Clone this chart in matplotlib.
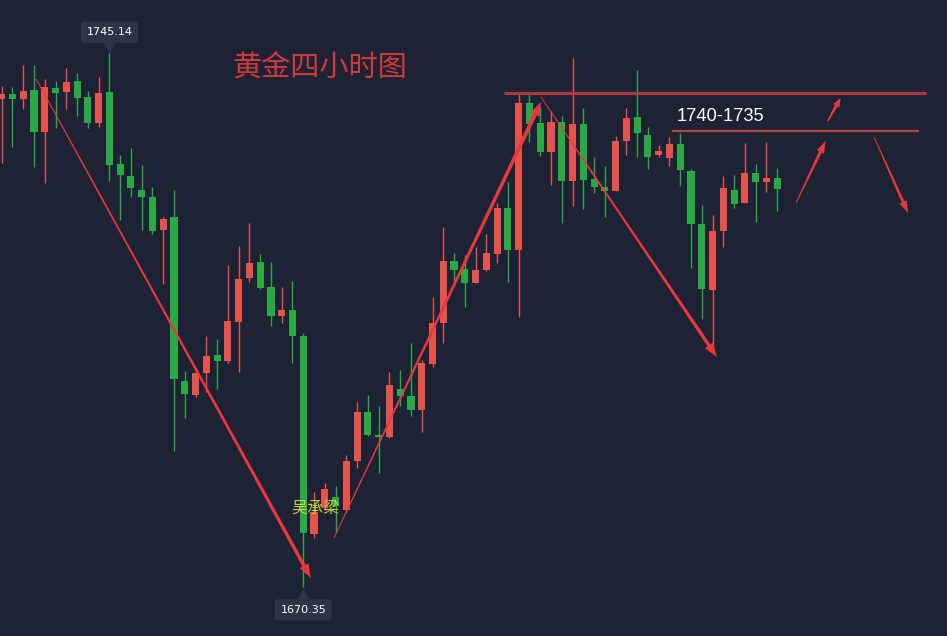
import numpy as np
import matplotlib
matplotlib.use('Agg')
import matplotlib.pyplot as plt
from matplotlib.patches import Polygon

plt.rcParams['font.family'] = ['Noto Sans CJK SC', 'DejaVu Sans']

# 4h gold candles
opens = [1738.69, 1739.39, 1738.69, 1739.99, 1734.15, 1740.23, 1739.71, 1741.25, 1739.01, 1735.41,
         1739.71, 1729.62, 1727.93, 1725.94, 1724.95, 1720.36, 1722.15, 1699.19, 1697.23, 1700.36,
         1702.84, 1702.00, 1707.51, 1713.68, 1715.88, 1712.37, 1708.35, 1709.15, 1705.50, 1677.74,
         1681.43, 1682.89, 1681.11, 1687.98, 1694.89, 1691.62, 1691.38, 1698.07, 1697.09, 1695.13,
         1701.58, 1707.37, 1716.06, 1714.90, 1712.98, 1714.76, 1717.00, 1723.49, 1717.56, 1738.21,
         1735.41, 1731.34, 1735.55, 1727.28, 1735.23, 1727.47, 1726.43, 1725.87, 1732.88, 1736.25,
         1733.68, 1730.88, 1730.50, 1732.42, 1728.68, 1721.21, 1711.95, 1720.22, 1725.97, 1724.19,
         1728.40, 1727.14, 1727.70]
highs = [1740.55, 1740.41, 1743.50, 1743.50, 1741.53, 1741.25, 1743.03, 1742.33, 1739.85, 1741.77,
         1745.14, 1730.88, 1731.82, 1729.48, 1726.35, 1722.15, 1725.97, 1700.60, 1700.97, 1705.50,
         1705.04, 1715.46, 1718.12, 1721.39, 1717.00, 1715.88, 1712.33, 1713.21, 1705.88, 1683.59,
         1684.94, 1684.47, 1688.82, 1696.21, 1697.23, 1695.69, 1700.50, 1700.74, 1704.48, 1702.14,
         1711.01, 1720.74, 1717.18, 1716.86, 1718.02, 1719.80, 1724.11, 1727.09, 1739.53, 1739.53,
         1737.65, 1737.05, 1736.35, 1744.44, 1737.43, 1730.56, 1729.34, 1733.54, 1737.43, 1742.80,
         1734.80, 1732.28, 1733.36, 1733.92, 1728.92, 1723.87, 1722.47, 1727.93, 1728.07, 1732.52,
         1729.62, 1732.74, 1729.01]
lows = [1729.76, 1732.00, 1737.33, 1729.20, 1726.95, 1734.71, 1737.29, 1736.35, 1734.71, 1734.85,
        1727.23, 1721.77, 1724.92, 1720.36, 1719.76, 1712.79, 1689.42, 1694.05, 1696.91, 1697.69,
        1698.07, 1701.76, 1700.50, 1713.12, 1712.05, 1706.95, 1707.28, 1701.76, 1670.35, 1677.22,
        1681.11, 1677.84, 1680.83, 1687.04, 1691.53, 1686.25, 1691.20, 1695.73, 1694.33, 1692.09,
        1701.20, 1704.48, 1713.12, 1709.61, 1712.93, 1714.62, 1715.78, 1713.12, 1708.21, 1732.74,
        1730.74, 1726.67, 1721.39, 1723.73, 1723.27, 1725.59, 1722.23, 1725.83, 1730.88, 1730.64,
        1728.87, 1730.64, 1729.38, 1726.57, 1715.08, 1707.84, 1704.24, 1717.94, 1723.41, 1724.15,
        1721.53, 1725.73, 1723.07]
closes = [1739.39, 1738.73, 1739.89, 1734.15, 1740.37, 1739.61, 1741.16, 1738.91, 1735.41, 1739.57,
          1729.48, 1728.07, 1726.32, 1725.03, 1720.27, 1721.91, 1699.43, 1697.41, 1700.36, 1702.70,
          1702.04, 1707.61, 1713.49, 1715.74, 1712.27, 1708.35, 1709.15, 1705.55, 1677.84, 1680.87,
          1684.05, 1681.67, 1687.98, 1694.89, 1691.62, 1691.38, 1698.63, 1697.13, 1695.13, 1701.68,
          1707.37, 1716.06, 1714.76, 1712.98, 1714.76, 1717.18, 1723.49, 1717.56, 1738.21, 1735.23,
          1731.34, 1735.55, 1727.28, 1735.23, 1727.37, 1726.43, 1725.87, 1732.88, 1736.02, 1733.92,
          1730.56, 1731.44, 1732.42, 1728.78, 1721.21, 1712.09, 1720.27, 1726.29, 1723.97, 1728.40,
          1727.14, 1727.70, 1726.11]

high_label = 1745.14
low_label = 1670.35
zone_top = 1739.6
zone_bottom = 1734.3
zone_text = '1740-1735'
title = '黄金四小时图'
author = '吴承梁'

bg = '#1e2235'
up_col = '#e5534b'
down_col = '#2aaa45'
arrow_col = '#e8383d'
tag_bg = '#2c3448'

fig = plt.figure(figsize=(9.47, 6.36), dpi=100)
fig.patch.set_facecolor(bg)
ax = fig.add_axes([0, 0, 1, 1])
ax.set_facecolor(bg)
ax.set_xlim(-0.158, 87.77)
ax.set_ylim(1663.44, 1752.61)
ax.axis('off')

o = np.array(opens)
h = np.array(highs)
l = np.array(lows)
c = np.array(closes)
x = np.arange(len(o))
cols = np.where(c >= o, up_col, down_col)

ax.vlines(x, l, h, colors=cols, linewidth=1.0, zorder=2)
body = np.maximum(np.abs(c - o), 0.25)
ax.bar(x, body, bottom=np.minimum(o, c), width=0.66, color=cols, linewidth=0, zorder=3)


def taper_arrow(p0, p1, w0=1.0, w1=3.5, hl=14, hw=10, color=arrow_col):
    # tapered shaft + head, built in pixel space
    a = ax.transData.transform(p0)
    b = ax.transData.transform(p1)
    d = b - a
    u = d / np.hypot(*d)
    n = np.array([-u[1], u[0]])
    base = b - u * hl
    pts = [a + n * w0 / 2, base + n * w1 / 2, base + n * hw / 2, b,
           base - n * hw / 2, base - n * w1 / 2, a - n * w0 / 2]
    ax.add_patch(Polygon(pts, closed=True, transform=None, facecolor=color,
                         edgecolor='none', zorder=5))


taper_arrow((3.2, 1741.53), (28.7, 1671.57), w0=1.0, w1=3.5)
taper_arrow((30.85, 1677.18), (50.07, 1738.31), w0=1.0, w1=4.0)
taper_arrow((50.07, 1739.01), (66.4, 1702.56), w0=0.8, w1=3.5)
taper_arrow((73.75, 1724.15), (76.5, 1732.84), w0=1.0, w1=3.0, hl=12, hw=8)
taper_arrow((76.7, 1735.65), (77.9, 1738.87), w0=1.5, w1=3.0, hl=9, hw=7)
taper_arrow((81.0, 1733.4), (84.15, 1722.75), w0=0.8, w1=3.0, hl=12, hw=8)

ax.hlines(zone_top, 46.6, 85.8, color='#a83a42', linewidth=2.3, zorder=4)
ax.hlines(zone_bottom, 62.2, 85.2, color='#b8403f', linewidth=1.6, zorder=4)
ax.text(62.7, 1735.6, zone_text, color='white', fontsize=13.2,
        family=['Liberation Sans', 'DejaVu Sans'], ha='left', va='baseline', zorder=6)

ax.text(29.5, 1743.1, title, color='#d0393c', fontsize=21, ha='center', va='center', zorder=6)
ax.text(29.1, 1681.3, author, color='#c3d43a', fontsize=11.5, ha='center', va='center', zorder=6)

# high / low tags
box = dict(boxstyle='round,pad=0.5,rounding_size=0.2', fc=tag_bg, ec='none')
ax.text(10, 1748.1, f'{high_label:.2f}', color='white', fontsize=8, ha='center', va='center',
        family='DejaVu Sans', bbox=box, zorder=7)
ax.plot(10, 1746.1, marker='v', color=tag_bg, markersize=8, zorder=7)
ax.text(28, 1667.1, f'{low_label:.2f}', color='white', fontsize=8, ha='center', va='center',
        family='DejaVu Sans', bbox=box, zorder=7)
ax.plot(28, 1669.2, marker='^', color=tag_bg, markersize=8, zorder=7)

fig.savefig('out.png', dpi=100, facecolor=bg)
